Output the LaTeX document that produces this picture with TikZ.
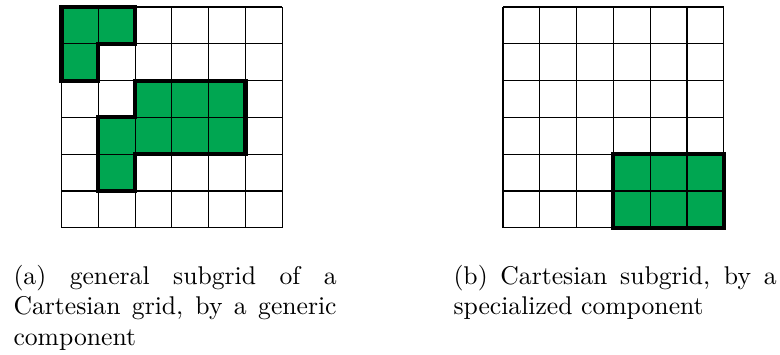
\documentclass[tikz,border=0pt]{standalone}
\usepackage{tikz}
\definecolor{cellgreen}{RGB}{0,166,81}
\begin{document}
\begin{tikzpicture}[x=0.39pt,y=-0.39pt,
  gridline/.style={line width=0.45pt, black},
  outline/.style={line width=1.6pt, black, line join=miter},
  capline/.style={inner sep=0pt, anchor=base west, font=\normalsize}]
\useasboundingbox (0,0) rectangle (780,355);
% ---- grid (a)
\begin{scope}[shift={(23.985pt,-2.73pt)}, x=14.352pt, y=-14.352pt]
  \fill[cellgreen] (0,0) rectangle (2,1);
  \fill[cellgreen] (0,1) rectangle (1,2);
  \fill[cellgreen] (2,2) rectangle (5,4);
  \fill[cellgreen] (1,3) rectangle (2,5);
  \foreach \i in {0,...,6} {
    \draw[gridline] (\i,0) -- (\i,6);
    \draw[gridline] (0,\i) -- (6,\i);
  }
  \draw[outline] (0,0) -- (2,0) -- (2,1) -- (1,1) -- (1,2) -- (0,2) -- cycle;
  \draw[outline] (2,2) -- (5,2) -- (5,4) -- (2,4) -- (2,5) -- (1,5) -- (1,3) -- (2,3) -- cycle;
\end{scope}
% ---- grid (b)
\begin{scope}[shift={(196.17pt,-2.73pt)}, x=14.352pt, y=-14.352pt]
  \fill[cellgreen] (3,4) rectangle (6,6);
  \foreach \i in {0,...,6} {
    \draw[gridline] (\i,0) -- (\i,6);
    \draw[gridline] (0,\i) -- (6,\i);
  }
  \draw[outline] (3,4) rectangle (6,6);
\end{scope}
% ---- captions
\node[capline] (capA1) at (13,285) {\makebox[126pt][s]{(a) general subgrid of a}};
\node[capline] (capA2) at (13,315) {\makebox[126pt][s]{Cartesian grid, by a generic}};
\node[capline] (capA3) at (13,345.5) {component};
\node[capline] (capB1) at (453,284.5) {\makebox[126pt][s]{(b) Cartesian subgrid, by a}};
\node[capline] (capB2) at (453,314.5) {specialized component};
\end{tikzpicture}
\end{document}
